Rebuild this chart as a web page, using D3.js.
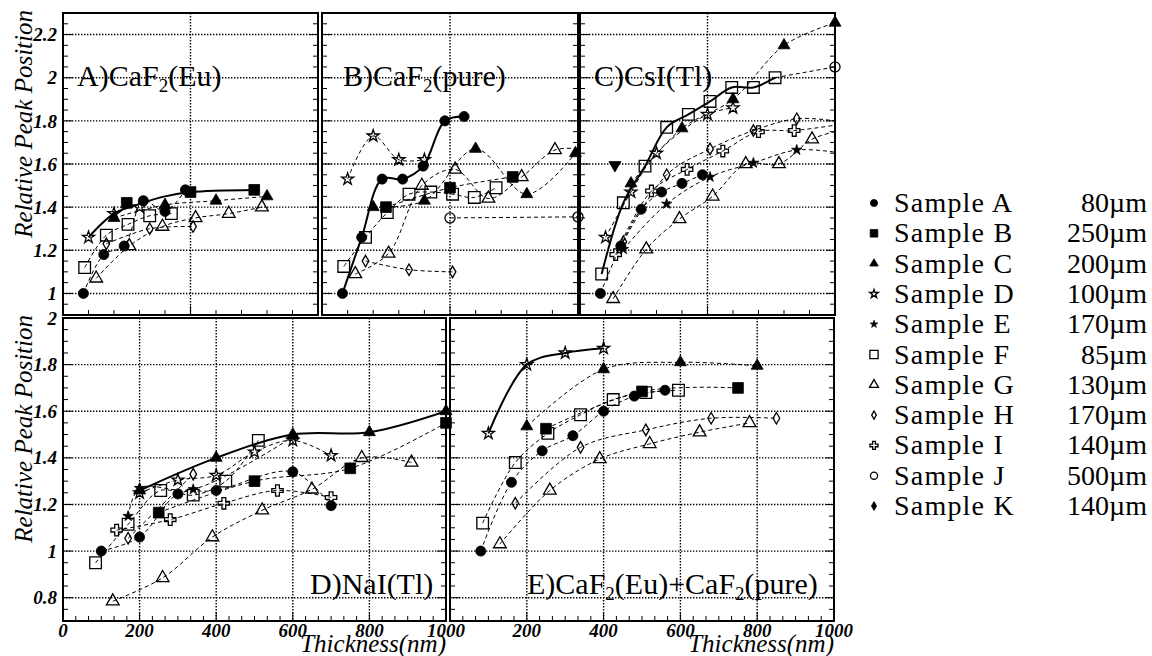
<!DOCTYPE html>
<html>
<head>
<meta charset="utf-8">
<script src="https://cdn.jsdelivr.net/npm/d3@7"></script>
</head>
<body style="margin:0;background:#fff">
<div id="fig"></div>
<script>
// ---- data ----
const sampleNames = ["A", "B", "C", "D", "E", "F", "G", "H", "I", "J", "K"];
const sampleThickness = ["80µm", "250µm", "200µm", "100µm", "170µm", "85µm", "130µm", "170µm", "140µm", "500µm", "140µm"];
const yTicksTop = ["1", "1.2", "1.4", "1.6", "1.8", "2", "2.2"];
const yTicksBottom = ["0.8", "1", "1.2", "1.4", "1.6", "1.8", "2"];
const xTickLabels = ["0", "200", "400", "600", "800", "1000"];

// line: solid | dash | none ; head/tail = extra curve points without marker
const caf2Eu = [
    { s: "A", line: "dash", pts: [[80, 1.0], [160, 1.18], [240, 1.22], [315, 1.43], [400, 1.38], [480, 1.48]] },
    { s: "B", line: "none", pts: [[250, 1.42], [500, 1.47], [750, 1.48]] },
    { s: "C", line: "dash", pts: [[200, 1.35], [400, 1.41], [600, 1.43], [800, 1.45]] },
    { s: "D", line: "none", pts: [[100, 1.26], [200, 1.37], [300, 1.40]] },
    { s: "F", line: "dash", pts: [[85, 1.12], [170, 1.27], [255, 1.32], [340, 1.36], [425, 1.37]] },
    { s: "G", line: "dash", pts: [[130, 1.07], [260, 1.22], [390, 1.31], [520, 1.35], [650, 1.37], [780, 1.40]] },
    { s: "H", line: "dash", pts: [[170, 1.23], [340, 1.30], [510, 1.31]] }
];
const caf2EuFit = [[100, 1.26], [200, 1.37], [300, 1.415], [400, 1.45], [500, 1.47], [750, 1.48]];

const caf2Pure = [
    { s: "A", line: "solid", pts: [[80, 1.0], [155, 1.26], [235, 1.53], [315, 1.53], [395, 1.59], [480, 1.80], [555, 1.82]] },
    { s: "B", line: "dash", pts: [[250, 1.40], [500, 1.49], [745, 1.54]] },
    { s: "C", line: "dash", pts: [[200, 1.40], [400, 1.43], [600, 1.67], [800, 1.46], [990, 1.65]] },
    { s: "D", line: "dash", pts: [[100, 1.53], [200, 1.73], [300, 1.62], [400, 1.62]] },
    { s: "F", line: "dash", pts: [[85, 1.125], [170, 1.26], [255, 1.375], [340, 1.46], [425, 1.47], [510, 1.46], [595, 1.445], [680, 1.49]] },
    { s: "G", line: "dash", pts: [[130, 1.09], [260, 1.185], [390, 1.50], [520, 1.575], [650, 1.44], [780, 1.54], [910, 1.665]], tail: [[1000, 1.67]] },
    { s: "H", line: "dash", pts: [[170, 1.15], [340, 1.11], [510, 1.10]] },
    { s: "J", line: "dash", pts: [[500, 1.35], [1000, 1.355]] }
];

const csiTl = [
    { s: "A", line: "dash", pts: [[80, 1.0], [160, 1.22], [240, 1.39], [320, 1.47], [400, 1.51], [480, 1.55]] },
    { s: "C", line: "dash", pts: [[200, 1.51], [400, 1.765], [600, 1.90], [800, 2.15], [1000, 2.255]] },
    { s: "D", line: "dash", pts: [[100, 1.26], [200, 1.47], [300, 1.65], [500, 1.83], [600, 1.86]] },
    { s: "E", line: "dash", pts: [[170, 1.205], [340, 1.415], [510, 1.54], [680, 1.605], [850, 1.665]], tail: [[1000, 1.655]] },
    { s: "F", line: "solid", pts: [[85, 1.09], [170, 1.42], [255, 1.59], [340, 1.77], [425, 1.83], [510, 1.89], [595, 1.955], [680, 1.955], [765, 2.0]] },
    { s: "G", line: "dash", pts: [[130, 0.975], [260, 1.205], [390, 1.345], [520, 1.45], [650, 1.60], [780, 1.60], [910, 1.715]], tail: [[1000, 1.75]] },
    { s: "H", line: "dash", pts: [[170, 1.24], [340, 1.55], [510, 1.67], [680, 1.755], [850, 1.81]], tail: [[1000, 1.80]] },
    { s: "I", line: "dash", pts: [[140, 1.18], [280, 1.475], [420, 1.575], [560, 1.66], [700, 1.75], [840, 1.755]], tail: [[1000, 1.78]] },
    { s: "J", line: "dash", pts: [[1000, 2.05]], head: [[765, 2.0]] },
    { s: "V", line: "none", pts: [[137, 1.595]] }
];

const naiTl = [
    { s: "A", line: "dash", pts: [[100, 1.0], [200, 1.06], [300, 1.245], [400, 1.26], [600, 1.34], [700, 1.195]] },
    { s: "B", line: "dash", pts: [[250, 1.165], [500, 1.30], [750, 1.355], [1000, 1.55]] },
    { s: "C", line: "solid", pts: [[200, 1.26], [400, 1.40], [600, 1.50], [800, 1.51], [1000, 1.60]] },
    { s: "D", line: "dash", pts: [[200, 1.25], [300, 1.305], [400, 1.325], [500, 1.425], [600, 1.475], [700, 1.41]] },
    { s: "E", line: "dash", pts: [[170, 1.15], [200, 1.27], [340, 1.265], [600, 1.49]] },
    { s: "F", line: "dash", pts: [[85, 0.95], [170, 1.115], [255, 1.26], [340, 1.24], [425, 1.30], [510, 1.475]] },
    { s: "G", line: "dash", pts: [[130, 0.785], [260, 0.885], [390, 1.06], [520, 1.175], [650, 1.265], [780, 1.40], [910, 1.38]] },
    { s: "H", line: "dash", pts: [[170, 1.055], [340, 1.33]] },
    { s: "I", line: "dash", pts: [[140, 1.09], [280, 1.135], [420, 1.205], [560, 1.26], [700, 1.23]] }
];

const caf2Mixed = [
    { s: "A", line: "dash", pts: [[80, 1.0], [160, 1.295], [240, 1.43], [320, 1.495], [400, 1.60], [480, 1.665], [560, 1.69]] },
    { s: "B", line: "dash", pts: [[250, 1.525], [500, 1.685], [750, 1.70]] },
    { s: "C", line: "dash", pts: [[200, 1.535], [400, 1.78], [600, 1.81], [800, 1.795]] },
    { s: "D", line: "solid", pts: [[100, 1.505], [200, 1.80], [300, 1.85], [400, 1.87]] },
    { s: "F", line: "dash", pts: [[85, 1.12], [170, 1.38], [255, 1.505], [340, 1.585], [425, 1.65], [510, 1.68], [595, 1.69]] },
    { s: "G", line: "dash", pts: [[130, 1.03], [260, 1.26], [390, 1.395], [520, 1.46], [650, 1.51], [780, 1.55]] },
    { s: "H", line: "dash", pts: [[170, 1.205], [340, 1.445], [510, 1.52], [680, 1.57], [850, 1.57]] }
];

// ---- layout ----
const W = 1152, H = 656;
const FONT = "Liberation Serif";
const svg = d3.select("#fig").append("svg").attr("width", W).attr("height", H).style("display", "block");

const topRow = { y0: 13, y1: 315, dom: [0.9, 2.3], ticks: yTicksTop, xMinor: 100, xMajor: 500 };
const botRow = { y0: 318, y1: 621, dom: [0.7, 2.0], ticks: yTicksBottom, xMinor: 200 / 6, xMajor: 200 };

const panels = [
    { data: caf2Eu, fit: caf2EuFit, row: topRow, x0: 63, x1: 318, grid: [500], left: true,
      label: [["A)CaF", 0], ["2", 1], ["(Eu)", 0]], lx: 77, ly: 86 },
    { data: caf2Pure, row: topRow, x0: 322, x1: 578, grid: [500],
      label: [["B)CaF", 0], ["2", 1], ["(pure)", 0]], lx: 343, ly: 86 },
    { data: csiTl, row: topRow, x0: 580, x1: 835, grid: [500],
      label: [["C)CsI(Tl)", 0]], lx: 594, ly: 86 },
    { data: naiTl, row: botRow, x0: 63, x1: 446, grid: [200, 400, 600, 800], left: true, xlab: xTickLabels,
      label: [["D)NaI(Tl)", 0]], lx: 310, ly: 594 },
    { data: caf2Mixed, row: botRow, x0: 450, x1: 834, grid: [200, 400, 600, 800], xlab: xTickLabels.slice(1),
      label: [["E)CaF", 0], ["2", 1], ["(Eu)+CaF", 0], ["2", 1], ["(pure)", 0]], lx: 527, ly: 594 }
];

// marker styles per sample
const markerStyle = {
    A: { type: d3.symbolCircle, fill: true, size: 80 },
    B: { type: d3.symbolSquare, fill: true, size: 115 },
    C: { type: d3.symbolTriangle, fill: true, size: 62 },
    D: { type: d3.symbolStar, fill: false, size: 45 },
    E: { type: d3.symbolStar, fill: true, size: 34 },
    F: { type: d3.symbolSquare, fill: false, size: 135 },
    G: { type: d3.symbolTriangle, fill: false, size: 70 },
    H: { type: d3.symbolDiamond, fill: false, size: 38 },
    I: { type: d3.symbolCross, fill: false, size: 72 },
    J: { type: d3.symbolCircle, fill: false, size: 80 },
    K: { type: d3.symbolDiamond, fill: true, size: 45 },
    V: { type: d3.symbolTriangle, fill: true, size: 62, rot: 180 }
};

function drawMarker(g, s, x, y, scaleArea) {
    const st = markerStyle[s];
    g.append("path")
        .attr("d", d3.symbol().type(st.type).size(st.size * (scaleArea || 1))())
        .attr("transform", "translate(" + x + "," + y + ")" + (st.rot ? " rotate(" + st.rot + ")" : ""))
        .attr("fill", st.fill ? "#000" : "none")
        .attr("stroke", "#000")
        .attr("stroke-width", st.fill ? 0.8 : 1.3);
}

function addText(g, x, y, size, str) {
    return g.append("text").attr("x", x).attr("y", y)
        .attr("font-family", FONT).style("font-family", FONT).style("font-size", size + "px")
        .attr("fill", "#000").text(str);
}

panels.forEach((p, pi) => {
    const r = p.row;
    const x = d3.scaleLinear().domain([0, 1000]).range([p.x0, p.x1]);
    const y = d3.scaleLinear().domain(r.dom).range([r.y1, r.y0]);
    const g = svg.append("g");

    const clipId = "clip" + pi;
    svg.append("clipPath").attr("id", clipId).append("rect")
        .attr("x", p.x0).attr("y", r.y0).attr("width", p.x1 - p.x0).attr("height", r.y1 - r.y0);

    // dotted grid
    r.ticks.forEach(t => {
        g.append("line").attr("x1", p.x0).attr("x2", p.x1).attr("y1", y(+t)).attr("y2", y(+t))
            .attr("stroke", "#000").attr("stroke-width", 1.4).attr("stroke-dasharray", "1.4,1.6");
    });
    p.grid.forEach(v => {
        g.append("line").attr("x1", x(v)).attr("x2", x(v)).attr("y1", r.y0).attr("y2", r.y1)
            .attr("stroke", "#000").attr("stroke-width", 1.4).attr("stroke-dasharray", "1.4,1.6");
    });

    // ticks: y every 0.05 on both sides, x along the bottom
    const yt = d3.range(Math.round(r.dom[0] * 20), Math.round(r.dom[1] * 20) + 1).map(k => k / 20);
    yt.forEach(v => {
        const major = Math.abs(v * 5 - Math.round(v * 5)) < 1e-6;
        const len = major ? 9 : 5;
        g.append("line").attr("x1", p.x0).attr("x2", p.x0 + len).attr("y1", y(v)).attr("y2", y(v))
            .attr("stroke", "#000").attr("stroke-width", 1);
        g.append("line").attr("x1", p.x1).attr("x2", p.x1 - len).attr("y1", y(v)).attr("y2", y(v))
            .attr("stroke", "#000").attr("stroke-width", 1);
    });
    d3.range(0, 1000.01, r.xMinor).forEach(v => {
        const major = Math.abs(v / r.xMajor - Math.round(v / r.xMajor)) < 1e-6;
        g.append("line").attr("x1", x(v)).attr("x2", x(v)).attr("y1", r.y1).attr("y2", r.y1 - (major ? 9 : 5))
            .attr("stroke", "#000").attr("stroke-width", 1);
    });

    // curves
    const line = d3.line().x(d => x(d[0])).y(d => y(d[1])).curve(d3.curveCatmullRom.alpha(0.5));
    const lines = g.append("g").attr("clip-path", "url(#" + clipId + ")");
    p.data.forEach(sr => {
        if (sr.line === "none") return;
        const pts = (sr.head || []).concat(sr.pts, sr.tail || []);
        lines.append("path").attr("d", line(pts)).attr("fill", "none").attr("stroke", "#000")
            .attr("stroke-width", sr.line === "solid" ? 2 : 1)
            .attr("stroke-dasharray", sr.line === "solid" ? null : "4,3");
    });
    if (p.fit) {
        lines.append("path").attr("d", line(p.fit)).attr("fill", "none").attr("stroke", "#000").attr("stroke-width", 2);
    }

    // markers
    const marks = g.append("g");
    p.data.forEach(sr => sr.pts.forEach(d => drawMarker(marks, sr.s, x(d[0]), y(d[1]))));

    // frame
    g.append("rect").attr("x", p.x0).attr("y", r.y0).attr("width", p.x1 - p.x0).attr("height", r.y1 - r.y0)
        .attr("fill", "none").attr("stroke", "#000").attr("stroke-width", 2);

    // panel label, subscript parts shifted down
    const lt = addText(g, p.lx, p.ly, 30, null);
    let wasSub = false;
    p.label.forEach(part => {
        const isSub = part[1] === 1;
        lt.append("tspan").text(part[0])
            .style("font-size", (isSub ? 19 : 30) + "px")
            .attr("dy", isSub ? 6 : (wasSub ? -6 : 0));
        wasSub = isSub;
    });

    // y labels + title on the left panels
    if (p.left) {
        r.ticks.forEach(t => {
            addText(g, 57, y(+t), 19, t).attr("dy", "0.35em").attr("text-anchor", "end")
                .style("font-weight", "bold").style("font-style", "italic");
        });
        addText(g, 0, 0, 25, "Relative Peak Position")
            .attr("transform", "translate(32," + (r.y0 - 3) + ") rotate(-90)")
            .attr("text-anchor", "end").style("font-style", "italic");
    }
    // x labels + title on the bottom panels
    if (p.xlab) {
        p.xlab.forEach(t => {
            addText(g, x(+t), 637, 19, t).attr("text-anchor", "middle")
                .style("font-weight", "bold").style("font-style", "italic");
        });
        addText(g, p.x1, 652, 25, "Thickness(nm)").attr("text-anchor", "end").style("font-style", "italic");
    }
});

// legend
const legend = svg.append("g");
sampleNames.forEach((s, i) => {
    const by = 212 + i * 30.3;
    drawMarker(legend, s, 874, by - 9, 0.5);
    addText(legend, 894, by, 28, "Sample " + s).style("letter-spacing", "1.2px");
    addText(legend, 1147, by, 28, sampleThickness[i]).attr("text-anchor", "end");
});
</script>
</body>
</html>
